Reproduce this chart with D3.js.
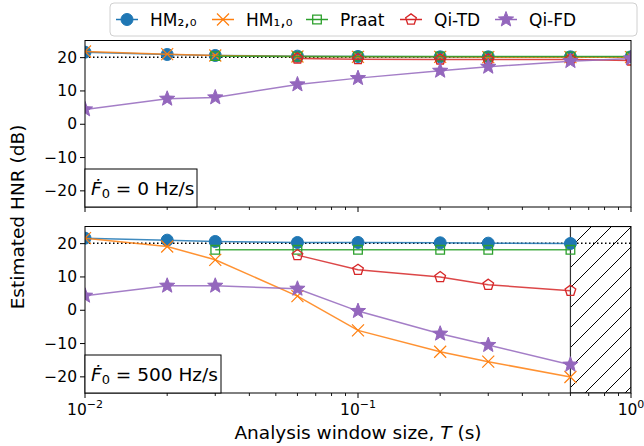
<!DOCTYPE html>
<html>
<head>
<meta charset="utf-8">
<script src="https://cdn.jsdelivr.net/npm/d3@7"></script>
<style>
  html, body { margin: 0; padding: 0; background: #fff; }
  svg { display: block; font-family: "DejaVu Sans", sans-serif; }
</style>
</head>
<body>
<svg id="chart" width="644" height="446"></svg>
<script>
// Analysis window sizes (s)
const windowSizes = [0.01, 0.02, 0.03, 0.06, 0.1, 0.2, 0.3, 0.6, 1.0];
const yTicks = [-20, -10, 0, 10, 20];
const xMajorTicks = [0.01, 0.1, 1];
const xTickExponents = ["−2", "−1", "0"];
const trueHNR = 20;

// Estimated HNR (dB), F0 slope 0 Hz/s (null = not evaluated)
const static_hm20  = [21.5, 20.8, 20.5, 20.3, 20.2, 20.1, 20.1, 20.1, 20.1];
const static_hm10  = [21.7, 20.9, 20.5, 20.2, 20.1, 20.1, 20.0, 20.0, 20.0];
const static_praat = [null, null, 20.3, 20.2, 20.2, 20.2, 20.2, 20.2, 20.2];
const static_qitd  = [null, null, null, 19.6, 19.4, 19.3, 19.3, 19.3, 19.0];
const static_qifd  = [4.3, 7.5, 7.9, 11.8, 13.7, 15.9, 17.1, 18.8, 19.6];

// Estimated HNR (dB), F0 slope 500 Hz/s
const sweep_hm20  = [21.5, 20.9, 20.5, 20.2, 20.2, 20.1, 20.0, 19.9, null];
const sweep_hm10  = [21.5, 19.0, 15.0, 4.1, -6.2, -12.6, -15.6, -20.2, null];
const sweep_praat = [null, null, 18.0, 18.0, 18.0, 18.0, 18.0, 18.0, null];
const sweep_qitd  = [null, null, null, 16.4, 12.0, 9.8, 7.5, 5.7, null];
const sweep_qifd  = [4.2, 7.2, 7.2, 6.3, -0.4, -7.2, -10.6, -16.5, null];

const seriesNames = ["HM₂,₀", "HM₁,₀", "Praat", "Qi-TD", "Qi-FD"];
const seriesColors = ["#1f77b4", "#ff7f0e", "#2ca02c", "#d62728", "#9467bd"];
const seriesMarkers = ["circle", "cross", "square", "pentagon", "star"];

const staticSeries = [static_hm20, static_hm10, static_praat, static_qitd, static_qifd];
const sweepSeries = [sweep_hm20, sweep_hm10, sweep_praat, sweep_qitd, sweep_qifd];

const svg = d3.select("#chart");
const left = 85, right = 631;
const x = d3.scaleLog().domain([0.01, 1]).range([left, right]);

const panels = [
  { top: 40.5, bottom: 207, series: staticSeries, label: "0", showX: false, boxW: 112 },
  { top: 226.5, bottom: 393, series: sweepSeries, label: "500", showX: true, boxW: 136, hatchFrom: 0.6 }
];

const defs = svg.append("defs");
const hatch = defs.append("pattern")
  .attr("id", "hatch").attr("patternUnits", "userSpaceOnUse")
  .attr("width", 20).attr("height", 20).attr("x", 18).attr("y", 0);
hatch.append("path")
  .attr("d", "M0,20L20,0M-5,5L5,-5M15,25L25,15")
  .attr("stroke", "#000").attr("stroke-width", 1);

function markerPath(kind) {
  switch (kind) {
    case "circle": return d3.symbol(d3.symbolCircle, Math.PI * 6 * 6)();
    case "square": return "M-4.3,-4.3H4.3V4.3H-4.3Z";
    case "cross": return "M-6,-6L6,6M-6,6L6,-6";
    case "pentagon": {
      const r = 5.6, pts = [];
      for (let i = 0; i < 5; i++) {
        const a = -Math.PI / 2 + i * 2 * Math.PI / 5;
        pts.push([r * Math.cos(a), r * Math.sin(a)]);
      }
      return "M" + pts.map(p => p.join(",")).join("L") + "Z";
    }
    case "star": {
      const ro = 8, ri = 3.4, pts = [];
      for (let i = 0; i < 10; i++) {
        const a = -Math.PI / 2 + i * Math.PI / 5;
        const r = i % 2 === 0 ? ro : ri;
        pts.push([r * Math.cos(a), r * Math.sin(a)]);
      }
      return "M" + pts.map(p => p.join(",")).join("L") + "Z";
    }
  }
}

function styleMarker(sel, kind, color) {
  if (kind === "circle" || kind === "star") {
    sel.attr("fill", color).attr("stroke", color).attr("stroke-width", 1);
  } else if (kind === "cross") {
    sel.attr("fill", "none").attr("stroke", color).attr("stroke-width", 1.2);
  } else {
    sel.attr("fill", "none").attr("stroke", color).attr("stroke-width", 1.3);
  }
}

panels.forEach((p, pi) => {
  const y = d3.scaleLinear().domain([-25, 25]).range([p.bottom, p.top]);
  const g = svg.append("g");
  const clipId = "clip" + pi;
  defs.append("clipPath").attr("id", clipId)
    .append("rect").attr("x", left).attr("y", p.top)
    .attr("width", right - left).attr("height", p.bottom - p.top);

  const plot = g.append("g").attr("clip-path", `url(#${clipId})`);

  if (p.hatchFrom) {
    plot.append("rect")
      .attr("x", x(p.hatchFrom)).attr("y", p.top)
      .attr("width", x(1) - x(p.hatchFrom)).attr("height", p.bottom - p.top)
      .attr("fill", "url(#hatch)").attr("stroke", "#333").attr("stroke-width", 1.2);
  }

  // reference level
  plot.append("line")
    .attr("x1", left).attr("x2", right)
    .attr("y1", y(trueHNR)).attr("y2", y(trueHNR))
    .attr("stroke", "#000").attr("stroke-width", 1.5)
    .attr("stroke-dasharray", "1.5,2.5");

  p.series.forEach((vals, si) => {
    const pts = windowSizes.map((w, i) => [w, vals[i]]).filter(d => d[1] !== null);
    const line = d3.line().x(d => x(d[0])).y(d => y(d[1]));
    plot.append("path")
      .attr("d", line(pts))
      .attr("fill", "none")
      .attr("stroke", seriesColors[si])
      .attr("stroke-width", 1.5)
      .attr("stroke-opacity", 0.85);
    plot.selectAll(null).data(pts).enter().append("path")
      .attr("d", markerPath(seriesMarkers[si]))
      .attr("transform", d => `translate(${x(d[0])},${y(d[1])})`)
      .call(styleMarker, seriesMarkers[si], seriesColors[si]);
  });

  // y axis
  const yAxis = d3.axisLeft(y).tickValues(yTicks).tickSize(5).tickPadding(3)
    .tickFormat(d => d < 0 ? "−" + Math.abs(d) : String(d));
  const ya = g.append("g").attr("transform", `translate(${left},0)`).call(yAxis);
  ya.select(".domain").remove();
  ya.selectAll("text").attr("font-size", 15.5).attr("fill", "#000")
    .attr("font-family", "DejaVu Sans");
  ya.selectAll("line").attr("stroke", "#000").attr("stroke-width", 1);

  // x axis: minor and major ticks
  const minor = [];
  [0.01, 0.1].forEach(dec => { for (let k = 2; k <= 9; k++) minor.push(dec * k); });
  const xa = g.append("g").attr("transform", `translate(0,${p.bottom})`);
  xa.selectAll(null).data(minor).enter().append("line")
    .attr("x1", d => x(d)).attr("x2", d => x(d)).attr("y1", 0).attr("y2", 3)
    .attr("stroke", "#000").attr("stroke-width", 0.9);
  xa.selectAll(null).data(xMajorTicks).enter().append("line")
    .attr("x1", d => x(d)).attr("x2", d => x(d)).attr("y1", 0).attr("y2", 5)
    .attr("stroke", "#000").attr("stroke-width", 1);
  if (p.showX) {
    xMajorTicks.forEach((t, i) => {
      const txt = xa.append("text")
        .attr("x", x(t)).attr("y", 22).attr("text-anchor", "middle")
        .attr("font-size", 15.5).attr("fill", "#000");
      txt.append("tspan").text("10");
      txt.append("tspan").attr("font-size", 11).attr("dy", -7).text(xTickExponents[i]);
    });
  }

  // frame
  g.append("rect")
    .attr("x", left).attr("y", p.top)
    .attr("width", right - left).attr("height", p.bottom - p.top)
    .attr("fill", "none").attr("stroke", "#000").attr("stroke-width", 1);

  // condition label
  const bh = 38;
  g.append("rect")
    .attr("x", left).attr("y", p.bottom - bh)
    .attr("width", p.boxW).attr("height", bh)
    .attr("fill", "#fff").attr("stroke", "#000").attr("stroke-width", 1);
  const lt = g.append("text")
    .attr("x", left + 6).attr("y", p.bottom - 12)
    .attr("font-size", 18.5).attr("fill", "#000");
  lt.append("tspan").attr("font-style", "italic").text("Ḟ");
  lt.append("tspan").attr("font-size", 13).attr("dy", 3).text("0");
  lt.append("tspan").attr("dy", -3).text(" = " + p.label + " Hz/s");
});

// axis titles
svg.append("text")
  .attr("x", x(0.1)).attr("y", 439)
  .attr("text-anchor", "middle").attr("font-size", 18.5).attr("fill", "#000")
  .call(t => {
    t.append("tspan").text("Analysis window size, ");
    t.append("tspan").attr("font-style", "italic").text("T");
    t.append("tspan").text(" (s)");
  });
svg.append("text")
  .attr("transform", "translate(24,217) rotate(-90)")
  .attr("text-anchor", "middle").attr("font-size", 18.5).attr("fill", "#000")
  .text("Estimated HNR (dB)");

// legend
const lg = svg.append("g");
lg.append("rect")
  .attr("x", 110).attr("y", 3).attr("width", 527).attr("height", 33).attr("rx", 4)
  .attr("fill", "#fff").attr("fill-opacity", 0.8)
  .attr("stroke", "#d0d0d0").attr("stroke-width", 1);
const legendX = [127, 223, 317, 411, 506];
seriesNames.forEach((name, i) => {
  const cx = legendX[i], cy = 19.5;
  lg.append("line")
    .attr("x1", cx - 11).attr("x2", cx + 11).attr("y1", cy).attr("y2", cy)
    .attr("stroke", seriesColors[i]).attr("stroke-width", 1.5);
  lg.append("path")
    .attr("d", markerPath(seriesMarkers[i]))
    .attr("transform", `translate(${cx},${cy})`)
    .call(styleMarker, seriesMarkers[i], seriesColors[i]);
  lg.append("text")
    .attr("x", cx + 23).attr("y", cy + 6)
    .attr("font-size", 17).attr("fill", "#000")
    .text(name);
});
</script>
</body>
</html>
